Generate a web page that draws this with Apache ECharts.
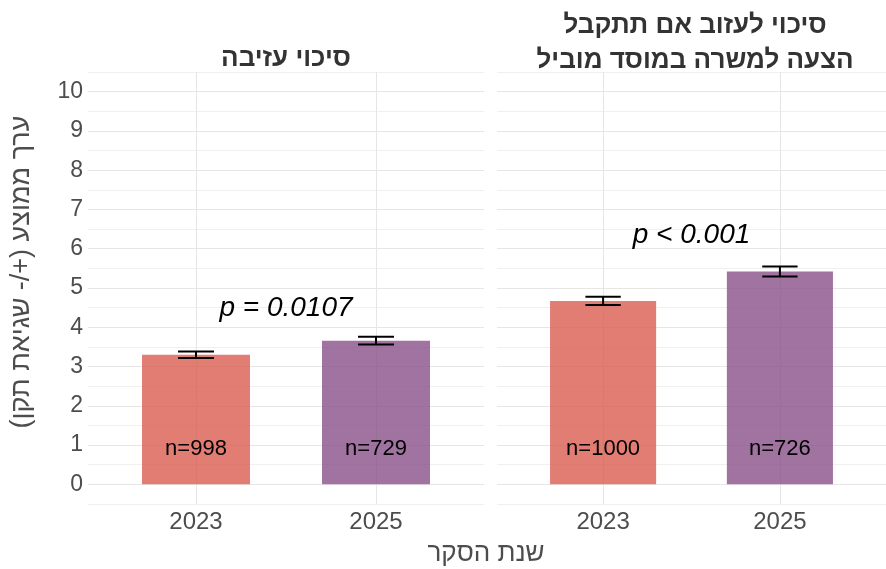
<!DOCTYPE html>
<html>
<head>
<meta charset="utf-8">
<script src="https://cdn.jsdelivr.net/npm/echarts@6/dist/echarts.min.js"></script>
<style>
  html, body { margin: 0; padding: 0; background: #fff; }
  #chart { width: 886px; height: 569px; }
</style>
</head>
<body>
<div id="chart"></div>
<script>
// data
const years = ['2023', '2025'];
const panelTitles = ['סיכוי עזיבה', 'סיכוי לעזוב אם תתקבל\nהצעה למשרה במוסד מוביל'];
const leaveMean = [3.30, 3.66];
const leaveSe = [0.085, 0.10];
const leaveN = [998, 729];
const offerMean = [4.67, 5.42];
const offerSe = [0.105, 0.13];
const offerN = [1000, 726];
const pTexts = ['p = 0.0107', 'p < 0.001'];
const pHeights = [4.49, 6.35];
const yTitle = '\u202Bערך ממוצע (+/- שגיאת תקן)\u202C';
const xTitle = 'שנת הסקר';

const barColors = ['rgba(219,93,81,0.8)', 'rgba(136,80,136,0.8)'];
const font = '"Liberation Sans", Arial, "DejaVu Sans", sans-serif';
const greyText = '#4d4d4d';

const chart = echarts.init(document.getElementById('chart'));

const panels = [
  { mean: leaveMean, se: leaveSe, n: leaveN },
  { mean: offerMean, se: offerSe, n: offerN }
];

const grids = [
  { left: 88, top: 72, width: 396, height: 432 },
  { left: 497, top: 72, width: 396, height: 432 }
];

const xAxes = grids.map((g, i) => ({
  type: 'value',
  gridIndex: i,
  min: 0.4,
  max: 2.6,
  axisLine: { show: false },
  axisTick: { show: false },
  splitLine: { show: false },
  axisLabel: {
    customValues: [1, 2],
    formatter: v => years[Math.round(v) - 1] || '',
    color: greyText,
    fontSize: 24,
    fontFamily: font,
    margin: 6
  }
}));

const yAxes = grids.map((g, i) => ({
  type: 'value',
  gridIndex: i,
  min: -0.5,
  max: 10.5,
  interval: 0.5,
  axisLine: { show: false },
  axisTick: { show: false },
  splitLine: { lineStyle: { color: ['#f0f0f0', '#e6e6e6'], width: 1 } },
  axisLabel: {
    show: i === 0,
    formatter: v => (Number.isInteger(v) && v >= 0 ? String(v) : ''),
    color: greyText,
    fontSize: 23,
    fontFamily: font,
    margin: 5
  }
}));

const series = [];
panels.forEach((p, i) => {
  // bars with n labels
  series.push({
    type: 'custom',
    xAxisIndex: i,
    yAxisIndex: i,
    z: 2,
    data: p.mean.map((m, k) => [k + 1, m, p.n[k]]),
    renderItem: (params, api) => {
      const x = api.value(0), y = api.value(1);
      const a = api.coord([x - 0.3, y]);
      const b = api.coord([x + 0.3, 0]);
      const lab = api.coord([x, 0.9]);
      return {
        type: 'group',
        children: [
          { type: 'rect', shape: { x: a[0], y: a[1], width: b[0] - a[0], height: b[1] - a[1] },
            style: { fill: barColors[params.dataIndex] } },
          { type: 'text', style: { text: 'n=' + api.value(2), x: lab[0], y: lab[1], align: 'center',
            verticalAlign: 'middle', fill: '#000', font: '22px ' + font } }
        ]
      };
    },
    markLine: {
      silent: true,
      symbol: 'none',
      z: 1,
      label: { show: false },
      lineStyle: { color: '#e6e6e6', width: 1, type: 'solid' },
      data: [{ xAxis: 1 }, { xAxis: 2 }]
    }
  });
  // error bars
  series.push({
    type: 'custom',
    xAxisIndex: i,
    yAxisIndex: i,
    z: 3,
    data: p.mean.map((m, k) => [k + 1, m, p.se[k]]),
    renderItem: (params, api) => {
      const x = api.value(0), m = api.value(1), s = api.value(2);
      const top = api.coord([x, m + s]);
      const bot = api.coord([x, m - s]);
      const l = api.coord([x - 0.1, m])[0];
      const r = api.coord([x + 0.1, m])[0];
      const st = { stroke: '#000', lineWidth: 2 };
      return {
        type: 'group',
        children: [
          { type: 'line', shape: { x1: top[0], y1: top[1], x2: bot[0], y2: bot[1] }, style: st },
          { type: 'line', shape: { x1: l, y1: top[1], x2: r, y2: top[1] }, style: st },
          { type: 'line', shape: { x1: l, y1: bot[1], x2: r, y2: bot[1] }, style: st }
        ]
      };
    }
  });
  // p-value label
  series.push({
    type: 'custom',
    xAxisIndex: i,
    yAxisIndex: i,
    z: 4,
    data: [[1.5, pHeights[i]]],
    renderItem: (params, api) => {
      const c = api.coord([api.value(0), api.value(1)]);
      return { type: 'text', style: { text: pTexts[i], x: c[0], y: c[1], align: 'center',
        verticalAlign: 'middle', fill: '#000', font: 'italic 28px ' + font } };
    }
  });
});

chart.setOption({
  backgroundColor: '#fff',
  animation: false,
  grid: grids,
  xAxis: xAxes,
  yAxis: yAxes,
  series: series,
  graphic: [
    { type: 'text', x: 286, y: 59, style: { text: panelTitles[0], align: 'center', verticalAlign: 'middle',
      fill: '#333', font: 'bold 26px ' + font } },
    { type: 'text', x: 695, y: 43, style: { text: panelTitles[1], align: 'center', verticalAlign: 'middle',
      fill: '#333', font: 'bold 26px ' + font, lineHeight: 35 } },
    { type: 'text', x: 486, y: 554, style: { text: xTitle, align: 'center', verticalAlign: 'middle',
      fill: greyText, font: '26px ' + font } },
    { type: 'text', x: 22, y: 272, rotation: Math.PI / 2, style: { text: yTitle, align: 'center',
      verticalAlign: 'middle', fill: greyText, font: '27px ' + font } }
  ]
});
</script>
</body>
</html>
